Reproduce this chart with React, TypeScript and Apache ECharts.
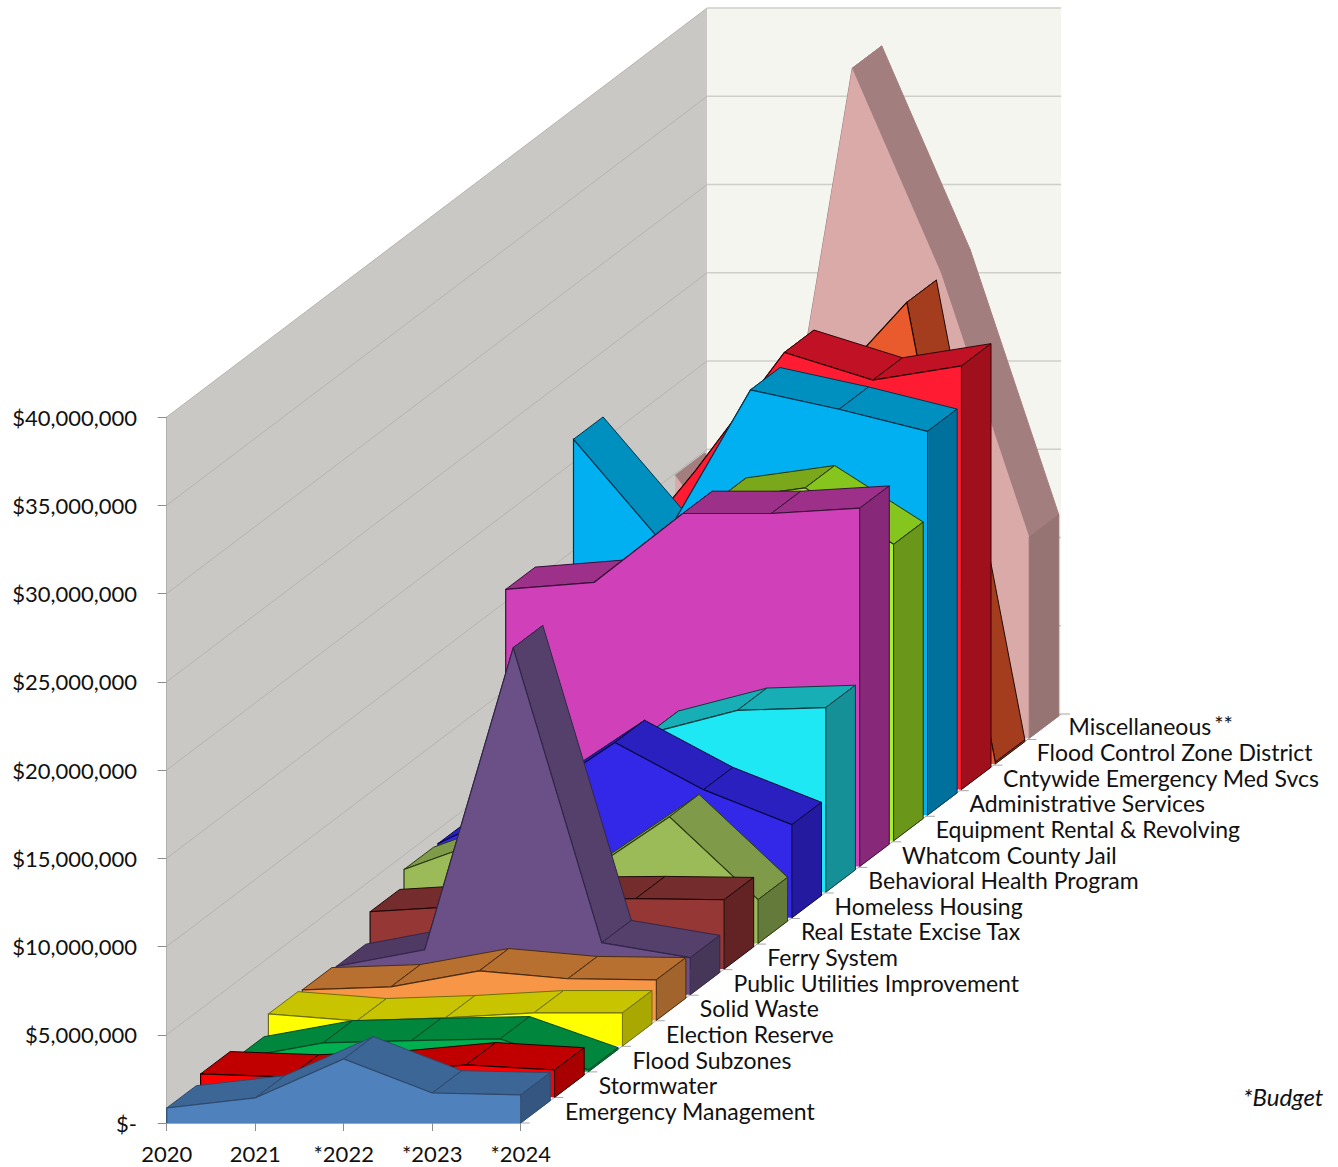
import React, { useEffect, useRef } from "react";
import * as echarts from "echarts";

const years = ["2020", "2021", "*2022", "*2023", "*2024"];
const yTicks = [0, 5e6, 10e6, 15e6, 20e6, 25e6, 30e6, 35e6, 40e6];

// million dollars, one value per year
const emergencyManagement = [0.85, 1.42, 3.63, 1.7, 1.59];
const stormwater = [1.33, 1.15, 1.38, 1.84, 1.55];
const floodSubzones = [0.72, 1.63, 1.76, 1.86, 0.1];
const electionReserve = [1.82, 1.43, 1.6, 1.88, 1.88];
const solidWaste = [1.73, 1.9, 2.81, 2.36, 2.3];
const publicUtilities = [1.6, 2.55, 19.66, 2.95, 2.1];
const ferrySystem = [3.25, 3.55, 3.95, 3.99, 3.93];
const realEstateExcise = [4.19, 6.0, 3.8, 7.18, 2.48];
const homelessHousing = [4.2, 6.6, 9.93, 7.26, 5.28];
const behavioralHealth = [3.0, 5.0, 9.0, 10.3, 10.46];
const whatcomJail = [15.7, 16.1, 20.0, 20.0, 20.3];
const equipmentRental = [10.0, 13.0, 19.3, 20.0, 16.8];
const administrative = [21.3, 15.45, 24.1, 23.0, 21.75];
const cntywideEms = [12.0, 18.1, 24.77, 23.2, 24.0];
const floodControl = [8.0, 12.0, 20.7, 26.15, 0.1];
const miscellaneous = [14.9, 7.9, 37.96, 26.4, 11.4];

const seriesNames = [
  "Emergency Management", "Stormwater", "Flood Subzones", "Election Reserve",
  "Solid Waste", "Public Utilities Improvement", "Ferry System", "Real Estate Excise Tax",
  "Homeless Housing", "Behavioral Health Program", "Whatcom County Jail",
  "Equipment Rental & Revolving", "Administrative Services", "Cntywide Emergency Med Svcs",
  "Flood Control Zone District", "Miscellaneous",
];
const seriesValues = [
  emergencyManagement, stormwater, floodSubzones, electionReserve,
  solidWaste, publicUtilities, ferrySystem, realEstateExcise,
  homelessHousing, behavioralHealth, whatcomJail,
  equipmentRental, administrative, cntywideEms,
  floodControl, miscellaneous,
];

const frontColors = ["#4f81bd", "#ff0000", "#00b050", "#ffff00", "#f79646", "#6b5087", "#953735", "#9bbb59", "#3328e8", "#1fe8f5", "#d040b8", "#a8f02c", "#00b0f0", "#ff1c33", "#e95a2c", "#d9aaa8"];
const topColors = ["#3c6695", "#c00000", "#00863d", "#c8c400", "#b87030", "#4e3a63", "#742c2c", "#7f9b4a", "#2a20bf", "#17aeb5", "#9d3088", "#7aa81a", "#0090c0", "#c11124", "#a33d1d", "#a37e7e"];
const descentColors = ["#3c6695", "#c00000", "#00863d", "#c8c400", "#b87030", "#54406b", "#742c2c", "#7f9b4a", "#2a20bf", "#17aeb5", "#9d3088", "#85c51e", "#0090c0", "#c11124", "#a33d1d", "#a37e7e"];
const sideColors = ["#345680", "#a80000", "#00863d", "#a8a800", "#a0642c", "#463658", "#632324", "#647a3b", "#231aa0", "#159096", "#872878", "#6a9619", "#00719c", "#9f0f1c", "#a33d1d", "#967474"];
const edgeColors = ["#2e4a6e", "#220000", "#004a22", "#6f6f10", "#4a2c10", "#33264a", "#200808", "#2c3a10", "#0a0840", "#0c3a3e", "#38103a", "#1e3206", "#00324a", "#300408", "#200a04", "none"];

const STEP_X = 33.9;
const STEP_Y = -25.65;
const RIBBON_X = 29.6;
const RIBBON_Y = -22.3;
const WALL_X = 540.4;
const WALL_Y = -409;
const LABEL_FONT = "Lato";
const M = 1e6;

type Pt = [number, number];

const ribbonRenderer = (depth: number) => (params: any, api: any) => {
  const d = params.dataIndexInside;
  const n = params.dataInsideLength;
  const shift = (c: number[]): Pt => [c[0] + depth * STEP_X, c[1] + depth * STEP_Y];
  const pt = (k: number) => shift(api.coord([k, api.value(1, k)]));
  const base = (k: number) => shift(api.coord([k, 0]));
  const back = (p: Pt): Pt => [p[0] + RIBBON_X, p[1] + RIBBON_Y];
  const edge = edgeColors[depth];
  const edgeOn = edge !== "none";
  const children: any[] = [];
  const poly = (points: Pt[], fill: string, stroke: string, lineWidth = 1) => ({
    type: "polygon",
    silent: true,
    shape: { points },
    style: { fill, stroke, lineWidth, lineJoin: "round" },
  });
  const line = (points: Pt[]) => ({
    type: "polyline",
    silent: true,
    shape: { points },
    style: { fill: "none", stroke: edge, lineWidth: 1.2 },
  });
  if (d < n - 1) {
    const p0 = pt(d), p1 = pt(d + 1);
    const top = p1[1] > p0[1] ? descentColors[depth] : topColors[depth];
    children.push(poly([p0, p1, back(p1), back(p0)], top, edgeOn ? edge : top));
  } else {
    // the last point closes the ribbon: whole front face, then the end face
    const tops: Pt[] = [];
    const bases: Pt[] = [];
    for (let k = 0; k < n; k++) {
      tops.push(pt(k));
      bases.unshift(base(k));
    }
    children.push(poly([...tops, ...bases], frontColors[depth], "none", 0));
    if (edgeOn) children.push(line([bases[n - 1], ...tops]));
    const p = pt(d), b = base(d);
    children.push(poly([p, back(p), back(b), b], sideColors[depth], edgeOn ? edge : sideColors[depth]));
  }
  return { type: "group", children };
};

const wallRenderer = (_params: any, api: any) => {
  const children: any[] = [];
  const o = api.coord([0, 0]);
  const t = api.coord([0, yTicks[yTicks.length - 1]]);
  const r = api.coord([4, 0]);
  const w = (p: number[]): Pt => [p[0] + WALL_X, p[1] + WALL_Y];
  const rr = [r[0], t[1]];
  children.push({ type: "polygon", silent: true, shape: { points: [o, t, w(t), w(o)] }, style: { fill: "#c9c8c4" } });
  children.push({ type: "polygon", silent: true, shape: { points: [w(t), w(rr), w(r), w(o)] }, style: { fill: "#f4f5ef" } });
  yTicks.forEach((v) => {
    const a = api.coord([0, v]);
    const b = api.coord([4, v]);
    children.push({ type: "polyline", silent: true, shape: { points: [a, w(a)] }, style: { fill: "none", stroke: "#b5b4ae", lineWidth: 1 } });
    children.push({ type: "polyline", silent: true, shape: { points: [w(a), w(b)] }, style: { fill: "none", stroke: "#cfcfc9", lineWidth: 1.5 } });
  });
  children.push({ type: "polyline", silent: true, shape: { points: [r, w(r)] }, style: { fill: "none", stroke: "#a6a6a6", lineWidth: 1 } });
  for (let k = 0; k <= 16; k++) {
    const p: Pt = [r[0] + (k * WALL_X) / 16, r[1] + (k * WALL_Y) / 16];
    children.push({ type: "polyline", silent: true, shape: { points: [p, [p[0] + 9, p[1]]] }, style: { fill: "none", stroke: "#a6a6a6", lineWidth: 1 } });
  }
  return { type: "group", children };
};

const labelRenderer = (params: any, api: any) => {
  const k = params.dataIndexInside;
  const r = api.coord([4, 0]);
  const isMisc = k === seriesNames.length - 1;
  return {
    type: "text",
    silent: true,
    x: r[0] + 44.3 + k * 33.7 - (isMisc ? 2 : 0),
    y: r[1] - 12 + k * STEP_Y,
    style: {
      text: isMisc ? "Miscellaneous{sup|**}" : seriesNames[k],
      fontFamily: LABEL_FONT,
      fontSize: 23,
      fill: "#111",
      align: "left",
      verticalAlign: "middle",
      rich: { sup: { fontFamily: LABEL_FONT, fontSize: 22, fill: "#111", verticalAlign: "top", padding: [0, 0, 6, 3] } },
    },
  };
};

const formatDollars = (v: number) =>
  v === 0 ? "$-" : "$" + v.toLocaleString("en-US");

export default function App() {
  const ref = useRef<HTMLDivElement>(null);
  useEffect(() => {
    document.body.style.margin = "0";
    const chart = echarts.init(ref.current!, undefined, { renderer: "svg" });
    chart.setOption({
      animation: false,
      backgroundColor: "#ffffff",
      textStyle: { fontFamily: LABEL_FONT },
      grid: { left: 166.7, top: 417, width: 354, height: 706, containLabel: false },
      xAxis: {
        type: "category",
        data: years,
        boundaryGap: false,
        axisLine: { show: true, lineStyle: { color: "#a6a6a6" } },
        axisTick: { show: true, length: 8, alignWithLabel: true, lineStyle: { color: "#8c8c8c" } },
        axisLabel: { color: "#111", fontSize: 22, fontFamily: LABEL_FONT, margin: 19, interval: 0 },
        splitLine: { show: false },
      },
      yAxis: {
        type: "value",
        min: 0,
        max: 40e6,
        interval: 5e6,
        axisLine: { show: true, lineStyle: { color: "#a6a6a6" } },
        axisTick: { show: true, length: 9, lineStyle: { color: "#8c8c8c" } },
        axisLabel: { color: "#111", fontSize: 22, fontFamily: LABEL_FONT, margin: 29.7, formatter: formatDollars },
        splitLine: { show: false },
      },
      graphic: [
        {
          type: "text",
          left: 1243,
          top: 1084,
          style: { text: "*Budget", fontFamily: LABEL_FONT, fontStyle: "italic", fontSize: 24, fill: "#111" },
        },
      ],
      series: [
        { type: "custom", name: "walls", z: 1, silent: true, renderItem: wallRenderer, data: [[0, 0]], clip: false },
        ...seriesNames.map((name, i) => ({
          type: "custom",
          name,
          z: 3 + (seriesNames.length - i),
          silent: true,
          clip: false,
          renderItem: ribbonRenderer(i),
          data: seriesValues[i].map((v, k) => [k, v * M]),
        })),
        {
          type: "custom",
          name: "depth labels",
          z: 30,
          silent: true,
          clip: false,
          renderItem: labelRenderer,
          data: seriesNames.map(() => [4, 0]),
        },
      ],
    });
    return () => chart.dispose();
  }, []);
  return <div ref={ref} style={{ position: "absolute", left: 0, top: 0, width: 1338, height: 1167 }} />;
}
